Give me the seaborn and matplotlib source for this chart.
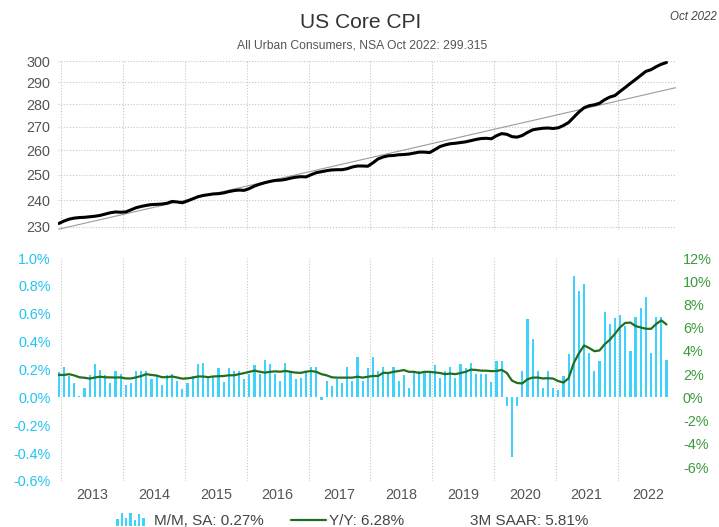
import numpy as np
import pandas as pd
import seaborn as sns
from matplotlib import pyplot as plt
from matplotlib.legend_handler import HandlerBase
from matplotlib.lines import Line2D
from matplotlib.patches import Rectangle
from matplotlib.ticker import NullLocator, NullFormatter

# ---------- DATA ----------
first_month = '2012-12'

# core CPI index, NSA (Dec 2012 .. Oct 2022)
core_cpi = [231.3,
            232.2, 232.9, 233.3, 233.5, 233.6, 233.8, 234.0, 234.3, 234.8, 235.3, 235.6, 235.5,
            235.6, 236.4, 237.2, 237.7, 238.1, 238.4, 238.5, 238.6, 238.9, 239.6, 239.4, 239.1,
            239.8, 240.6, 241.4, 241.9, 242.2, 242.5, 242.6, 242.9, 243.4, 243.8, 244.0, 243.9,
            244.6, 245.6, 246.3, 246.9, 247.4, 247.8, 247.9, 248.2, 248.7, 249.1, 249.3, 249.2,
            250.1, 250.9, 251.3, 251.7, 252.0, 252.1, 252.1, 252.5, 253.2, 253.6, 253.6, 253.5,
            254.9, 256.5, 257.3, 257.8, 257.9, 258.2, 258.3, 258.5, 258.9, 259.3, 259.3, 259.1,
            260.3, 261.6, 262.3, 262.8, 263.0, 263.3, 263.6, 264.1, 264.6, 265.0, 265.1, 264.9,
            266.2, 267.1, 266.8, 265.8, 265.6, 266.3, 267.6, 268.7, 269.1, 269.4, 269.5, 269.3,
            269.6, 270.6, 271.9, 274.2, 276.5, 278.4, 279.3, 279.7, 280.4, 282.0, 283.2, 283.9,
            285.8, 287.6, 289.5, 291.3, 293.2, 295.1, 295.9, 297.3, 298.5, 299.315]

# M/M change, SA (%)
mm_sa = [0.18,
         0.22, 0.15, 0.10, 0.01, 0.07, 0.16, 0.24, 0.20, 0.16, 0.10, 0.19, 0.17,
         0.09, 0.10, 0.19, 0.19, 0.19, 0.13, 0.15, 0.09, 0.16, 0.17, 0.12, 0.06,
         0.10, 0.15, 0.24, 0.25, 0.15, 0.15, 0.21, 0.11, 0.21, 0.19, 0.19, 0.13,
         0.17, 0.23, 0.17, 0.27, 0.24, 0.17, 0.12, 0.25, 0.18, 0.13, 0.14, 0.18,
         0.22, 0.22, -0.02, 0.12, 0.08, 0.13, 0.10, 0.22, 0.12, 0.29, 0.12, 0.21,
         0.29, 0.19, 0.22, 0.18, 0.22, 0.12, 0.16, 0.07, 0.19, 0.19, 0.18, 0.18,
         0.23, 0.14, 0.19, 0.22, 0.14, 0.24, 0.21, 0.25, 0.17, 0.17, 0.17, 0.11,
         0.26, 0.26, -0.06, -0.43, -0.06, 0.19, 0.56, 0.42, 0.19, 0.07, 0.19, 0.07,
         0.05, 0.15, 0.31, 0.87, 0.76, 0.81, 0.32, 0.19, 0.26, 0.61, 0.53, 0.57,
         0.59, 0.51, 0.33, 0.58, 0.64, 0.72, 0.32, 0.58, 0.58, 0.27]

# Y/Y change, NSA (%)
yy_nsa = [1.94,
          1.93, 2.00, 1.89, 1.73, 1.69, 1.62, 1.71, 1.78, 1.73, 1.72, 1.71, 1.72,
          1.63, 1.63, 1.72, 1.84, 2.00, 1.93, 1.88, 1.74, 1.74, 1.80, 1.71, 1.61,
          1.64, 1.70, 1.80, 1.80, 1.74, 1.80, 1.82, 1.84, 1.90, 1.90, 2.00, 2.09,
          2.20, 2.30, 2.21, 2.13, 2.20, 2.24, 2.21, 2.28, 2.20, 2.13, 2.11, 2.21,
          2.27, 2.20, 2.00, 1.90, 1.73, 1.70, 1.70, 1.70, 1.70, 1.78, 1.70, 1.78,
          1.84, 1.84, 2.12, 2.10, 2.20, 2.27, 2.35, 2.20, 2.20, 2.10, 2.20, 2.20,
          2.15, 2.10, 2.00, 2.05, 2.00, 2.10, 2.20, 2.39, 2.36, 2.30, 2.30, 2.26,
          2.27, 2.37, 2.10, 1.44, 1.24, 1.20, 1.56, 1.70, 1.71, 1.63, 1.65, 1.62,
          1.40, 1.28, 1.65, 2.96, 3.80, 4.47, 4.25, 3.98, 4.04, 4.58, 4.96, 5.48,
          6.04, 6.41, 6.44, 6.14, 6.02, 5.91, 5.90, 6.32, 6.63, 6.28]

# thin log trend line (value at Dec 2012 and Dec 2022)
trend_month = [0, 120]
trend_value = [229.2, 287.6]

cpi_ticks = [230, 240, 250, 260, 270, 280, 290, 300]
mm_ticks = [-0.6, -0.4, -0.2, 0.0, 0.2, 0.4, 0.6, 0.8, 1.0]
yy_ticks = [-6, -4, -2, 0, 2, 4, 6, 8, 10, 12]

last_mm = '0.27%'
last_yy = '6.28%'
saar_3m = '5.81%'

# ---------- FRAME ----------
months = pd.date_range(first_month, periods=len(core_cpi), freq='MS')
df = pd.DataFrame({'t': np.arange(len(months)), 'cpi': core_cpi, 'mm': mm_sa, 'yy': yy_nsa})
year_lines = [t - 0.5 for t, m in zip(df['t'], months) if m.month == 1]
year_mid = [g + 6 for g in year_lines]
year_labels = [str(m.year) for m in months if m.month == 1]

BAR_C = '#3fd2fc'
CYAN_TXT = '#22c4f2'
GREEN_LINE = '#1f6f1f'
GREEN_TXT = '#3b9a3b'
GRAY_TXT = '#555555'
GRID_C = '#c6c6c6'
DOTS = (0, (1, 1.6))
TICK_FS = 10.4

sns.set_theme(style='white')
plt.rcParams['font.family'] = ['Liberation Sans', 'DejaVu Sans']

fig = plt.figure(figsize=(7.19, 5.27), dpi=100)
ax_top = fig.add_axes([0.080, 0.5636, 0.8602, 0.3213])
ax_bot = fig.add_axes([0.080, 0.0873, 0.8602, 0.4231])
xlim = (-0.25, 119.85)

# ---------- TOP: index ----------
sns.lineplot(x=trend_month, y=trend_value, ax=ax_top, color='#9c9c9c', lw=0.8)
sns.lineplot(data=df, x='t', y='cpi', ax=ax_top, color='black', lw=2.2)
ax_top.set_yscale('log')
ax_top.set_ylim(228.9, 300.2)
ax_top.set_yticks(cpi_ticks)
ax_top.set_yticklabels([str(v) for v in cpi_ticks])
ax_top.yaxis.set_minor_locator(NullLocator())
ax_top.yaxis.set_minor_formatter(NullFormatter())
ax_top.set_xticks(year_lines)
ax_top.set_xticklabels([])
ax_top.set_xlim(xlim)
ax_top.grid(True, color=GRID_C, ls=DOTS, lw=0.8)
ax_top.tick_params(length=0, labelsize=TICK_FS, labelcolor=GRAY_TXT, pad=5)
ax_top.set_xlabel('')
ax_top.set_ylabel('')

# ---------- BOTTOM: M/M bars and Y/Y line ----------
sns.barplot(data=df, x='t', y='mm', native_scale=True, color=BAR_C, saturation=1,
            width=0.42, linewidth=0, errorbar=None, ax=ax_bot)
ax_bot.set_ylim(-0.6, 1.0)
ax_bot.set_yticks(mm_ticks)
ax_bot.set_yticklabels([f'{v:.1f}%' for v in mm_ticks])
ax_bot.tick_params(axis='y', length=0, labelsize=TICK_FS, labelcolor=CYAN_TXT, pad=5)

ax_yy = ax_bot.twinx()
sns.lineplot(data=df, x='t', y='yy', ax=ax_yy, color=GREEN_LINE, lw=1.6)
ax_yy.set_ylim(-7.2, 12)
ax_yy.set_yticks(yy_ticks)
ax_yy.set_yticklabels([f'{v}%' for v in yy_ticks])
ax_yy.tick_params(axis='y', length=0, labelsize=TICK_FS, labelcolor=GREEN_TXT, pad=5)
ax_yy.set_ylabel('')

ax_bot.set_xlim(xlim)
ax_bot.set_xticks(year_lines)
ax_bot.set_xticklabels([])
ax_bot.set_xticks(year_mid, minor=True)
ax_bot.set_xticklabels(year_labels, minor=True)
ax_bot.tick_params(axis='x', which='both', length=0, labelsize=TICK_FS, labelcolor=GRAY_TXT, pad=5)
ax_bot.grid(True, axis='x', which='major', color=GRID_C, ls=DOTS, lw=0.8)
ax_bot.grid(False, axis='y')
ax_bot.set_xlabel('')
ax_bot.set_ylabel('')

for a in (ax_top, ax_bot, ax_yy):
    for s in a.spines.values():
        s.set_visible(False)

# ---------- TEXT ----------
fig.text(0.502, 1 - 22 / 527, 'US Core CPI', ha='center', va='center', fontsize=15.1, color='#333333')
fig.text(0.503, 1 - 46 / 527, 'All Urban Consumers, NSA Oct 2022: 299.315', ha='center', va='center',
         fontsize=8.7, color=GRAY_TXT)
fig.text(717 / 719, 1 - 17 / 527, 'Oct 2022', ha='right', va='center', fontsize=8.3, style='italic',
         color='#444444')


# legend icon: a little bar chart
class BarIcon(HandlerBase):
    def create_artists(self, legend, orig_handle, xdescent, ydescent, width, height, fontsize, trans):
        hs = [0.55, 1.0, 0.6, 1.0, 0.5, 0.95, 0.6]
        step = width * 0.86 / len(hs)
        out = []
        for k, h in enumerate(hs):
            out.append(Rectangle((-xdescent + k * step + step * 0.2, -ydescent - 1),
                                 step * 0.5, (height + 2) * h, color=BAR_C, lw=0, transform=trans))
        return out


bar_handle = Rectangle((0, 0), 1, 1, color=BAR_C)
yy_handle = Line2D([], [], color=GREEN_LINE, lw=1.6)
saar_handle = Line2D([], [], color='none')
fig.legend([bar_handle, yy_handle, saar_handle],
           [f'M/M, SA: {last_mm}', f'Y/Y: {last_yy}', f'3M SAAR: {saar_3m}'],
           handler_map={bar_handle: BarIcon()},
           loc='center', bbox_to_anchor=(352 / 719, 1 - 521 / 527), ncol=3, frameon=False,
           fontsize=11, labelcolor='#444444', handlelength=2.3, handletextpad=0.2, columnspacing=1.8)

fig.savefig('out.png', dpi=100)
